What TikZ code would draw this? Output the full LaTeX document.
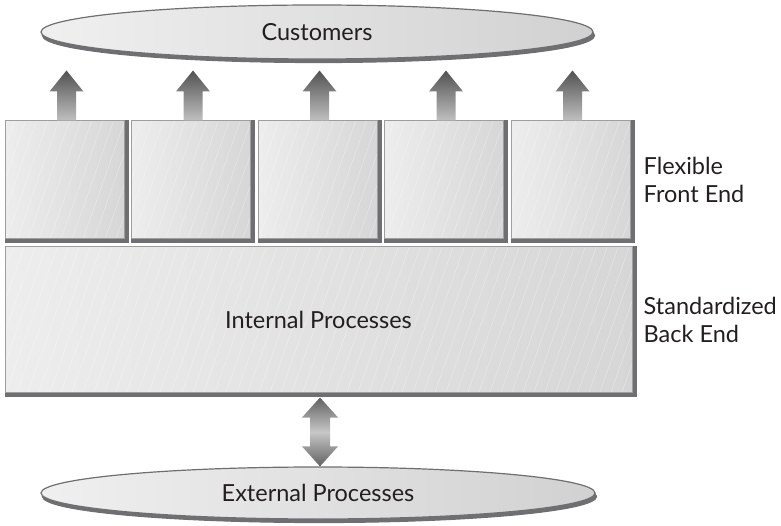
\documentclass[tikz,border=0pt]{standalone}
\usepackage{fontspec}
\setmainfont{Lato}
\usetikzlibrary{positioning,calc,shapes.geometric,shadows,backgrounds}

\definecolor{rim}{HTML}{6F6F71}
\definecolor{ink}{HTML}{231F20}

\begin{document}
\begin{tikzpicture}[
    x=1pt, y=-1pt,
    font=\fontsize{23.5}{28}\selectfont, text=ink,
    hatch/.style={path picture={
        \foreach \k in {0,11,...,800}
          \draw[white, opacity=0.35, line width=0.5pt]
            ([xshift=\k pt-120pt]path picture bounding box.south west) -- ++(60,-170);}},
    front/.style={draw=black!38, line width=1pt, left color=black!7, right color=black!16,
                  minimum width=119pt, minimum height=118pt, inner sep=0pt, hatch},
    back/.style={front, minimum width=627pt, minimum height=145pt},
    blob/.style={ellipse, draw=rim, line width=1.2pt, left color=black!6, right color=black!18,
                 inner sep=0pt, copy shadow={shadow xshift=1.5pt, shadow yshift=-3.5pt, fill=rim, draw=rim}},
    side/.style={align=left, inner sep=0pt},
    uparr/.style={top color=black!68, bottom color=black!25},
    duoarr/.style={top color=black!62, bottom color=black!62, middle color=black!22}
]
  \useasboundingbox (0,0) rectangle (781,526);

  \node[blob, minimum width=552pt, minimum height=54pt] (cust) at (317,32) {Customers};
  \node[blob, minimum width=554pt, minimum height=52pt] (ext) at (318,493) {External Processes};

  \foreach \i [evaluate=\i as \cx using 64.5+126.5*(\i-1)] in {1,...,5}
    \node[front] (f\i) at (\cx,180) {};
  \node[back] (back) at (318.5,319.5) {Internal Processes};

  \node[side, right=13pt of f5] (flex) {Flexible\\Front End};
  \node[side, right=11pt of back] (std) {Standardized\\Back End};

  % dark rims under the boxes
  \begin{scope}[on background layer]
    \foreach \i in {1,...,5}
      \fill[rim] (f\i.north west) rectangle ($(f\i.south east)+(4,4)$);
    \fill[rim] (back.north west) rectangle ($(back.south east)+(4,4)$);
  \end{scope}

  % block arrows up to the customers
  \foreach \i in {1,...,5}{
    \coordinate (b\i) at ($(f\i.north)+(2,0)$);
    \coordinate (t\i) at ($(b\i)+(0,-50)$);
    \shade[uparr] ($(b\i)+(-9.5,0)$) -- ++(0,-29) -- ++(-7.5,0) -- (t\i)
      -- ($(b\i)+(17,-29)$) -- ++(-7.5,0) -- ++(0,29) -- cycle;
  }

  % two-way arrow to the external processes
  \coordinate (dtop) at ($(back.south)+(1.5,5)$);
  \coordinate (dbot) at (dtop |- ext.north);
  \shade[duoarr] (dtop) -- ($(dtop)+(18,20)$) -- ($(dtop)+(10,20)$) -- ($(dbot)+(10,-20)$)
    -- ($(dbot)+(18,-20)$) -- (dbot) -- ($(dbot)+(-18,-20)$) -- ($(dbot)+(-10,-20)$)
    -- ($(dtop)+(-10,20)$) -- ($(dtop)+(-18,20)$) -- cycle;
\end{tikzpicture}
\end{document}
